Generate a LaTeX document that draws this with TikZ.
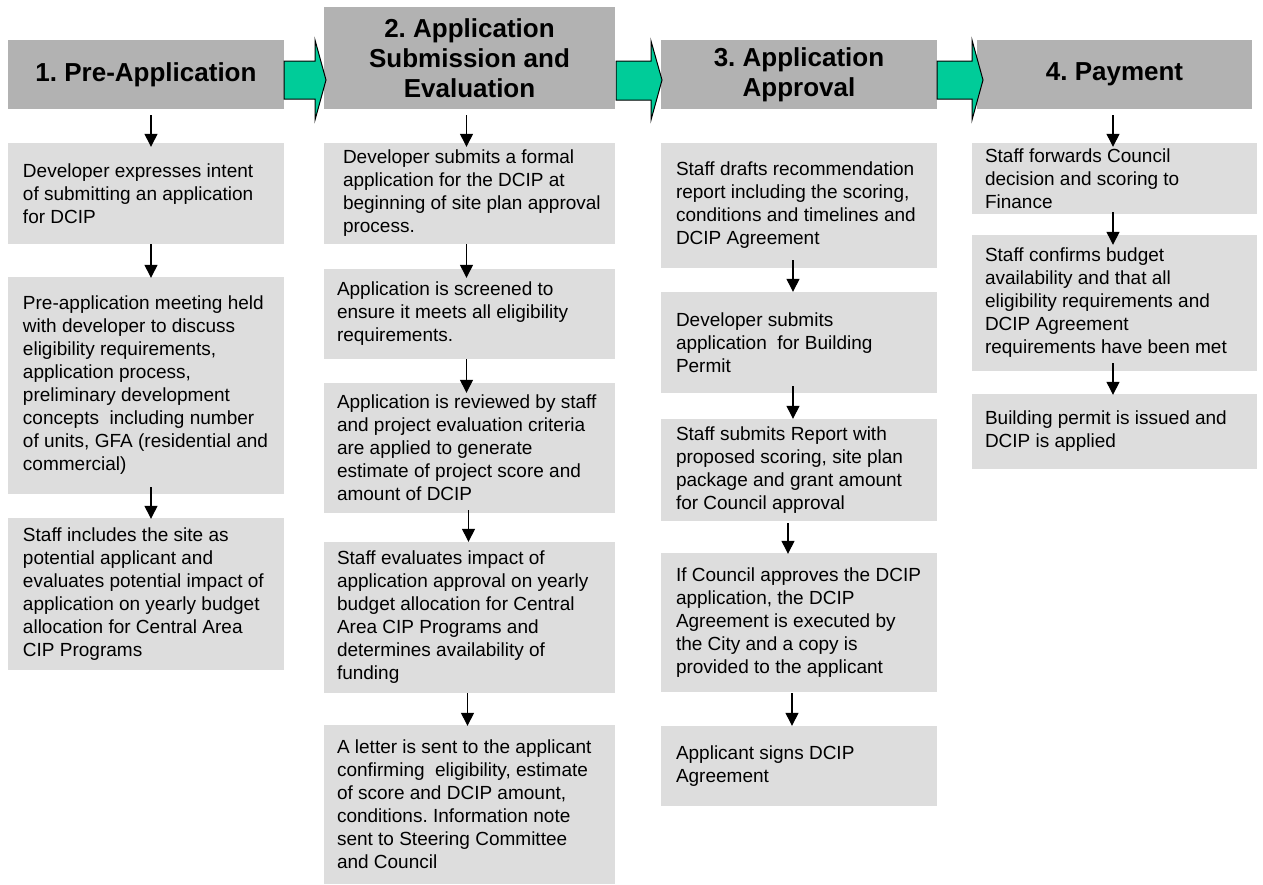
\documentclass[tikz,border=0pt]{standalone}
\usepackage{fontspec}
\setmainfont{Liberation Sans}
\usetikzlibrary{arrows.meta}
\definecolor{hdrgray}{RGB}{178,178,178}
\definecolor{boxgray}{RGB}{221,221,221}
\definecolor{flowgreen}{RGB}{0,204,153}
\frenchspacing
\begin{document}
\begin{tikzpicture}[x=1pt,y=-1pt,
 hdr/.style={fill=hdrgray, inner sep=0pt, align=center, font=\fontsize{26}{30}\selectfont\bfseries},
 dbox/.style={fill=boxgray, inner sep=0pt},
 dtext/.style={inner sep=0pt, anchor=west, align=left, font=\fontsize{19}{23}\selectfont},
 conn/.style={draw=black, line width=1.3pt, -{Triangle[width=13pt,length=13pt]}},
 garrow/.style={fill=flowgreen, draw=black, line width=1pt, line join=miter}]
\useasboundingbox (0,0) rectangle (1263,884);
\fill[white] (0,0) rectangle (1263,884);

% headers
\node[hdr, minimum width=276pt, minimum height=69pt] (h1) at (146,74.5) {1. Pre-Application};
\node[hdr, minimum width=291pt, minimum height=102pt] (h2) at (469.5,58) {2. Application\\Submission and\\Evaluation};
\node[hdr, minimum width=276pt, minimum height=69pt] (h3) at (799,74.5) {3. Application\\Approval};
\node[hdr, minimum width=275pt, minimum height=69pt] (h4) at (1114.5,74.5) {4. Payment};

% green flow arrows
\draw[garrow] (284,61) -- (315,61) -- (315,40) -- (326,80) -- (315,120) -- (315,99) -- (284,99) -- cycle;
\draw[garrow] (616,61) -- (651,61) -- (651,41) -- (662,80) -- (651,120) -- (651,100) -- (616,100) -- cycle;
\draw[garrow] (937,61) -- (972,61) -- (972,40) -- (983,80) -- (972,120) -- (972,99) -- (937,99) -- cycle;

% column 1
\node[dbox, minimum width=276pt, minimum height=101pt] (b1a) at (146,193.5) {};
\node[dtext] (t1a) at ([xshift=15pt]b1a.west)
 {Developer expresses intent\\of submitting an application\\for DCIP};
\node[dbox, minimum width=276pt, minimum height=217pt] (b1b) at (146,385.5) {};
\node[dtext] (t1b) at ([xshift=15pt]b1b.west)
 {Pre-application meeting held\\with developer to discuss\\eligibility requirements,\\application process,\\preliminary development\\concepts\ \ including number\\of units, GFA (residential and\\commercial)};
\node[dbox, minimum width=276pt, minimum height=152pt] (b1c) at (146,594) {};
\node[dtext] (t1c) at ([xshift=15pt]b1c.west)
 {Staff includes the site as\\potential applicant and\\evaluates potential impact of\\application on yearly budget\\allocation for Central Area\\CIP Programs};

% column 2
\node[dbox, minimum width=291pt, minimum height=101pt] (b2a) at (469.5,193.5) {};
\node[dtext] (t2a) at ([xshift=19pt]b2a.west)
 {Developer submits a formal\\application for the DCIP at\\beginning of site plan approval\\process.};
\node[dbox, minimum width=291pt, minimum height=90pt] (b2b) at (469.5,314) {};
\node[dtext] (t2b) at ([xshift=13pt]b2b.west)
 {Application is screened to\\ensure it meets all eligibility\\requirements.};
\node[dbox, minimum width=291pt, minimum height=130pt] (b2c) at (469.5,448) {};
\node[dtext] (t2c) at ([xshift=13pt]b2c.west)
 {Application is reviewed by staff\\and project evaluation criteria\\are applied to generate\\estimate of project score and\\amount of DCIP};
\node[dbox, minimum width=291pt, minimum height=151pt] (b2d) at (469.5,617.5) {};
\node[dtext] (t2d) at ([xshift=13pt]b2d.west)
 {Staff evaluates impact of\\application approval on yearly\\budget allocation for Central\\Area CIP Programs and\\determines availability of\\funding};
\node[dbox, minimum width=291pt, minimum height=159pt] (b2e) at (469.5,804.5) {};
\node[dtext] (t2e) at ([xshift=13pt]b2e.west)
 {A letter is sent to the applicant\\confirming\ \ eligibility, estimate\\of score and DCIP amount,\\conditions. Information note\\sent to Steering Committee\\and Council};

% column 3
\node[dbox, minimum width=276pt, minimum height=125pt] (b3a) at (799,205.5) {};
\node[dtext] (t3a) at ([xshift=15pt]b3a.west)
 {Staff drafts recommendation\\report including the scoring,\\conditions and timelines and\\DCIP Agreement};
\node[dbox, minimum width=276pt, minimum height=101pt] (b3b) at (799,342.5) {};
\node[dtext] (t3b) at ([xshift=15pt]b3b.west)
 {Developer submits\\application\ \ for Building\\Permit};
\node[dbox, minimum width=276pt, minimum height=102pt] (b3c) at (799,470) {};
\node[dtext] (t3c) at ([xshift=15pt]b3c.west)
 {Staff submits Report with\\proposed scoring, site plan\\package and grant amount\\for Council approval};
\node[dbox, minimum width=276pt, minimum height=139pt] (b3d) at (799,622.5) {};
\node[dtext] (t3d) at ([xshift=15pt]b3d.west)
 {If Council approves the DCIP\\application, the DCIP\\Agreement is executed by\\the City and a copy is\\provided to the applicant};
\node[dbox, minimum width=276pt, minimum height=80pt] (b3e) at (799,766) {};
\node[dtext] (t3e) at ([xshift=15pt]b3e.west)
 {Applicant signs DCIP\\Agreement};

% column 4
\node[dbox, minimum width=285pt, minimum height=71pt] (b4a) at (1114.5,178.5) {};
\node[dtext] (t4a) at ([xshift=13pt]b4a.west)
 {Staff forwards Council\\decision and scoring to\\Finance};
\node[dbox, minimum width=285pt, minimum height=136pt] (b4b) at (1114.5,303) {};
\node[dtext] (t4b) at ([xshift=13pt]b4b.west)
 {Staff confirms budget\\availability and that all\\eligibility requirements and\\DCIP Agreement\\requirements have been met};
\node[dbox, minimum width=285pt, minimum height=75pt] (b4c) at (1114.5,431.5) {};
\node[dtext] (t4c) at ([xshift=13pt]b4c.west)
 {Building permit is issued and\\DCIP is applied};

% connectors column 1
\draw[conn, shorten <=6pt, shorten >=-4pt] ([xshift=5pt]h1.south) -- ([xshift=5pt]b1a.north);
\draw[conn, shorten >=-1pt] ([xshift=5pt]b1a.south) -- ([xshift=5pt]b1b.north);
\draw[conn, shorten <=-7pt, shorten >=-1pt] ([xshift=5pt]b1b.south) -- ([xshift=5pt]b1c.north);
% connectors column 2
\draw[conn, shorten <=6pt, shorten >=-4pt] ([xshift=-3pt]h2.south) -- ([xshift=-3pt]b2a.north);
\draw[conn, shorten >=-9pt] ([xshift=-3pt]b2a.south) -- ([xshift=-3pt]b2b.north);
\draw[conn, shorten >=-10pt] ([xshift=-3pt]b2b.south) -- ([xshift=-3pt]b2c.north);
\draw[conn, shorten <=-3pt] ([xshift=-1pt]b2c.south) -- ([xshift=-1pt]b2d.north);
\draw[conn, shorten >=-1pt] ([xshift=-2pt]b2d.south) -- ([xshift=-2pt]b2e.north);
% connectors column 3
\draw[conn, shorten <=-8pt] ([xshift=-6pt]b3a.south) -- ([xshift=-6pt]b3b.north);
\draw[conn, shorten <=-7pt] ([xshift=-6pt]b3b.south) -- ([xshift=-6pt]b3c.north);
\draw[conn, shorten <=2pt, shorten >=-1pt] ([xshift=-11pt]b3c.south) -- ([xshift=-11pt]b3d.north);
\draw[conn, shorten <=1pt] ([xshift=-7pt]b3d.south) -- ([xshift=-7pt]b3e.north);
% connectors column 4
\draw[conn, shorten <=6pt, shorten >=-4pt] ([xshift=-1.5pt]h4.south) -- ([xshift=-1.5pt]b4a.north);
\draw[conn, shorten <=-2pt, shorten >=-10pt] ([xshift=-1.5pt]b4a.south) -- ([xshift=-1.5pt]b4b.north);
\draw[conn, shorten <=-8pt, shorten >=-1pt] ([xshift=-1.5pt]b4b.south) -- ([xshift=-1.5pt]b4c.north);
\end{tikzpicture}
\end{document}
